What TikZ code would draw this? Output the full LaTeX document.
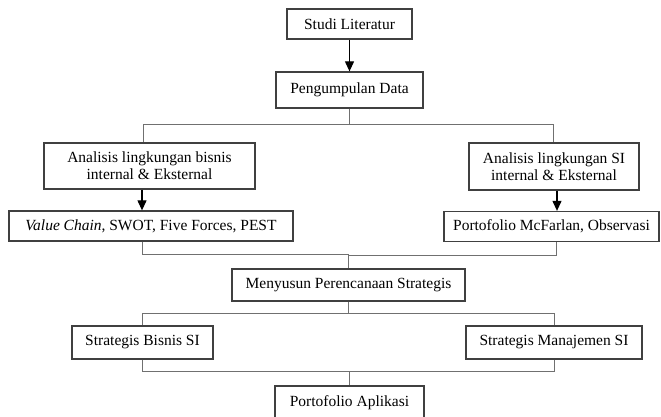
\documentclass[tikz,border=0pt]{standalone}
\usepackage{fontspec}
\setmainfont{Liberation Serif}
\usepackage{tikz}
\usetikzlibrary{arrows.meta, positioning, calc}
\definecolor{boxgray}{RGB}{64, 64, 64}
\definecolor{linegray}{RGB}{112, 112, 112}

\begin{document}
\begin{tikzpicture}[x=1pt, y=-1pt, font=\fontsize{15.5}{17}\selectfont,
    box/.style={rectangle, draw=boxgray, line width=1.3pt, fill=white, inner sep=0pt, align=center},
    link/.style={draw=linegray, line width=0.9pt},
    arr/.style={-{Triangle[width=9pt,length=10pt]}, line width=1.1pt, black}]
    \clip (0,0) rectangle (661,416);

    % tahap awal
    \node[box, minimum width=125, minimum height=30] (lit) at (349.5, 24) {Studi Literatur};
    \node[box, minimum width=147, minimum height=36] (data) at (349.5, 90) {Pengumpulan Data};
    \draw[arr] (lit) -- (data);

    % analisis lingkungan
    \node[box, minimum width=211, minimum height=46] (bisnis) at (149.5, 166) {Analisis lingkungan bisnis\\internal \& Eksternal};
    \node[box, minimum width=170, minimum height=47] (si) at (554, 166.5) {Analisis lingkungan SI\\internal \& Eksternal};
    \draw[link] (data.south) -- ++(0,16) -| ([xshift=-6.5]bisnis.north);
    \draw[link] (data.south) -- ++(0,16) -| ([xshift=-1]si.north);

    % alat analisis
    \node[box, minimum width=284, minimum height=30] (vc) at (151, 226) {\textit{Value Chain}, SWOT, Five Forces, PEST};
    \node[box, minimum width=215, minimum height=30] (mcf) at (551.5, 226.5) {Portofolio McFarlan, Observasi};
    \draw[arr] ([xshift=-7.5]bisnis.south) -- ([xshift=-7.5]bisnis.south |- vc.north);
    \draw[arr] ([xshift=3]si.south) -- ([xshift=3]si.south |- mcf.north);

    % perencanaan strategis
    \node[box, minimum width=233, minimum height=32] (plan) at (348.5, 285) {Menyusun Perencanaan Strategis};
    \draw[link] ([xshift=-9]vc.south) -- ++(0,13) -| (plan.north);
    \draw[link] ([xshift=4.5]mcf.south) -- ++(0,13) -| (plan.north);

    % strategi
    \node[box, minimum width=141, minimum height=33] (bis) at (142.5, 342.5) {Strategis Bisnis SI};
    \node[box, minimum width=176, minimum height=33] (man) at (554, 342.5) {Strategis Manajemen SI};
    \draw[link] (plan.south) -- ++(0,12) -| (bis.north);
    \draw[link] (plan.south) -- ++(0,12) -| (man.north);

    % hasil
    \node[box, minimum width=149, minimum height=34] (porto) at (349.5, 403) {Portofolio Aplikasi};
    \draw[link] (bis.south) -- ++(0,12) -| (porto.north);
    \draw[link] (man.south) -- ++(0,12) -| (porto.north);
\end{tikzpicture}
\end{document}
